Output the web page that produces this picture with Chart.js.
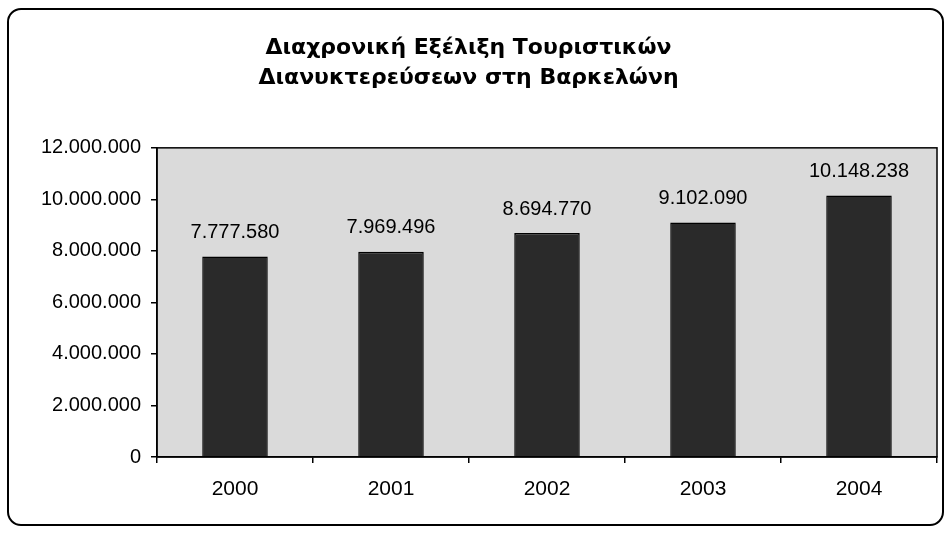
<!DOCTYPE html>
<html>
<head>
<meta charset="utf-8">
<script src="https://cdn.jsdelivr.net/npm/chart.js@4"></script>
<style>
  html, body { margin: 0; padding: 0; background: #fff; }
  #wrap { position: relative; width: 947px; height: 533px; }
  #frame { position: absolute; left: 7px; top: 8px; width: 933px; height: 514px;
           border: 2px solid #000; border-radius: 14px; pointer-events: none; }
  canvas { position: absolute; left: 0; top: 0; }
</style>
</head>
<body>
<div id="wrap">
  <canvas id="c" width="947" height="533"></canvas>
  <div id="frame"></div>
</div>
<script>
const titleLines = ['Διαχρονική Εξέλιξη Τουριστικών', 'Διανυκτερεύσεων στη Βαρκελώνη'];
const years = ['2000', '2001', '2002', '2003', '2004'];
const overnightStays = [7777580, 7969496, 8694770, 9102090, 10148238];
const yTicks = [0, 2000000, 4000000, 6000000, 8000000, 10000000, 12000000];

function fmt(v) {
  return String(Math.round(v)).replace(/\B(?=(\d{3})+(?!\d))/g, '.');
}

const FONT = "'Liberation Sans', Arial, sans-serif";
const TITLE_FONT = "'DejaVu Sans', 'Liberation Sans', Arial, sans-serif";
Chart.defaults.color = '#000';
Chart.defaults.font.family = FONT;

const plotBg = {
  id: 'plotBg',
  beforeDraw(chart) {
    const { ctx, chartArea: a } = chart;
    ctx.save();
    ctx.fillStyle = '#dadada';
    ctx.fillRect(a.left, a.top, a.right - a.left, a.bottom - a.top);
    ctx.restore();
  },
  afterDatasetsDraw(chart) {
    const { ctx, chartArea: a } = chart;
    ctx.save();
    ctx.strokeStyle = '#000';
    ctx.lineWidth = 1.5;
    ctx.strokeRect(a.left, a.top, a.right - a.left, a.bottom - a.top);
    ctx.font = '20px ' + FONT;
    ctx.fillStyle = '#000';
    ctx.textAlign = 'center';
    ctx.textBaseline = 'bottom';
    const meta = chart.getDatasetMeta(0);
    meta.data.forEach((bar, i) => {
      ctx.fillText(fmt(chart.data.datasets[0].data[i]), bar.x, bar.y - 14);
    });
    ctx.restore();
  }
};

new Chart(document.getElementById('c'), {
  type: 'bar',
  data: {
    labels: years,
    datasets: [{
      data: overnightStays,
      backgroundColor: '#2a2a2a',
      borderColor: '#000',
      borderWidth: 1.5,
      barPercentage: 0.42,
      categoryPercentage: 1.0
    }]
  },
  options: {
    responsive: false,
    animation: false,
    layout: { padding: { left: 0, right: 10, top: 0, bottom: 0 } },
    plugins: {
      legend: { display: false },
      tooltip: { enabled: false },
      title: {
        display: true,
        text: titleLines,
        font: { size: 22, weight: 'bold', family: TITLE_FONT, lineHeight: 1.36 },
        color: '#000',
        padding: { top: 33, bottom: 55 }
      }
    },
    scales: {
      y: {
        min: 0, max: 12000000,
        afterBuildTicks(scale) { scale.ticks = yTicks.map(v => ({ value: v })); },
        afterFit(scale) { scale.width = 157; },
        ticks: { font: { size: 20 }, color: '#000', padding: 10, callback: v => fmt(v) },
        grid: { drawOnChartArea: false, drawTicks: true, tickLength: 6, color: '#000', lineWidth: 1.5 },
        border: { display: true, color: '#000', width: 1.5 }
      },
      x: {
        offset: true,
        afterFit(scale) { scale.height = 76; },
        ticks: { font: { size: 21 }, color: '#000', padding: 14 },
        grid: { offset: true, drawOnChartArea: false, drawTicks: true, tickLength: 6, color: '#000', lineWidth: 1.5 },
        border: { display: true, color: '#000', width: 1.5 }
      }
    }
  },
  plugins: [plotBg]
});
</script>
</body>
</html>
